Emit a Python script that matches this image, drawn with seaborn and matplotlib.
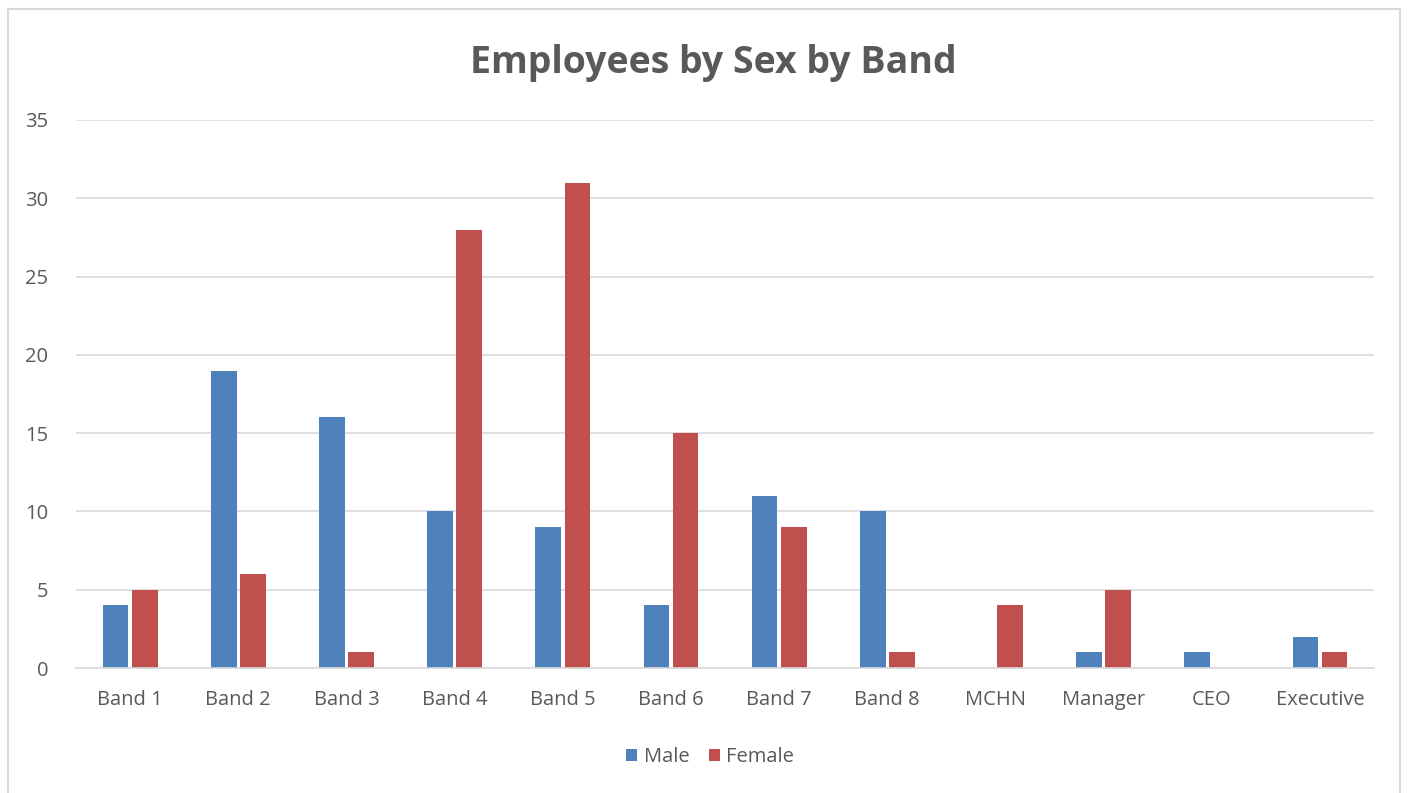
import matplotlib
matplotlib.use("Agg")
import matplotlib.pyplot as plt
from matplotlib.patches import Rectangle
import seaborn as sns
import pandas as pd

bands = ["Band 1", "Band 2", "Band 3", "Band 4", "Band 5", "Band 6",
         "Band 7", "Band 8", "MCHN", "Manager", "CEO", "Executive"]
male = [4, 19, 16, 10, 9, 4, 11, 10, 0, 1, 1, 2]
female = [5, 6, 1, 28, 31, 15, 9, 1, 4, 5, 0, 1]
sexes = ["Male", "Female"]
colors = {"Male": "#4F81BD", "Female": "#C0504D"}
yticks = [0, 5, 10, 15, 20, 25, 30, 35]

df = pd.DataFrame({
    "Band": bands * 2,
    "Sex": [sexes[0]] * len(bands) + [sexes[1]] * len(bands),
    "Count": male + female,
})

sns.set_theme(style="white")
plt.rcParams["font.family"] = ["Open Sans", "DejaVu Sans"]

fig = plt.figure(figsize=(14.08, 7.93), dpi=100)
ax = fig.add_axes([0.054, 0.1576, 0.9219, 0.6911])

sns.barplot(data=df, x="Band", y="Count", hue="Sex", order=bands,
            hue_order=sexes, palette=colors, width=0.54, gap=0.12,
            linewidth=0, saturation=1, ax=ax, legend=True)

ax.set_ylim(0, 35)
ax.set_xlim(-0.5, len(bands) - 0.5)
ax.set_yticks(yticks)
ax.yaxis.grid(True, color="#D9D9D9", linewidth=1.2)
ax.set_axisbelow(True)
for side in ["top", "right", "left"]:
    ax.spines[side].set_visible(False)
ax.spines["bottom"].set_color("#D9D9D9")
ax.spines["bottom"].set_linewidth(1.2)
ax.tick_params(axis="both", length=0, labelsize=14.5, labelcolor="#595959")
ax.tick_params(axis="x", pad=16)
ax.tick_params(axis="y", pad=20)
ax.set_xlabel("")
ax.set_ylabel("")

fig.text(0.5065, 0.921, "Employees by Sex by Band", ha="center", va="center",
         fontsize=27, fontweight="bold", color="#595959")

handles, labels = ax.get_legend_handles_labels()
ax.legend(handles, labels, loc="center", bbox_to_anchor=(0.5045, 0.045),
          bbox_transform=fig.transFigure, ncol=2, frameon=False,
          fontsize=14.5, labelcolor="#595959", handlelength=0.55,
          handleheight=0.55, handletextpad=0.3, columnspacing=1.0)

fig.patches.append(Rectangle((8 / 1408, -0.05), (1400 - 8) / 1408, 1.05 - 9 / 793,
                             transform=fig.transFigure, fill=False,
                             edgecolor="#D9D9D9", linewidth=1.5))

fig.savefig("out.png", dpi=100, facecolor="white")
